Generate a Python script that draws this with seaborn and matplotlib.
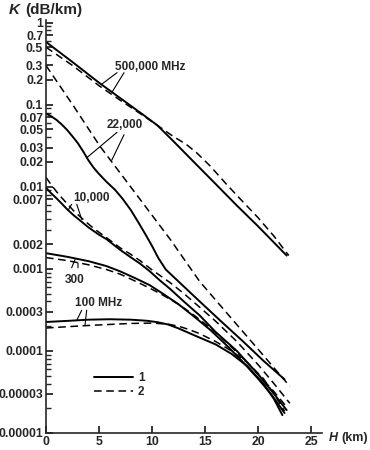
import numpy as np
import pandas as pd
import matplotlib
matplotlib.use("Agg")
import matplotlib.pyplot as plt
import matplotlib.ticker as mticker
from matplotlib.lines import Line2D
import seaborn as sns

# Attenuation K (dB/km) vs height H (km)
# curve 1 = solid, curve 2 = dashed
h_500k_1 = [0, 2.5, 5, 7, 9, 10.5, 12, 14, 16, 18, 20, 22.7]
k_500k_1 = [0.58, 0.33, 0.185, 0.12, 0.078, 0.056, 0.036, 0.0197, 0.0108, 0.0059, 0.0033, 0.00145]
h_500k_2 = [0, 2.5, 5, 7, 9, 10.5, 12, 13.2, 14.2, 15.5, 17, 18.6, 20, 21.5, 22.9]
k_500k_2 = [0.50, 0.30, 0.17, 0.113, 0.076, 0.056, 0.041, 0.033, 0.026, 0.0178, 0.0108, 0.0065,
            0.0042, 0.0025, 0.00145]

h_22k_1 = [0, 0.5, 1, 1.5, 2, 2.5, 3, 3.5, 4, 4.5, 5, 5.7, 6.5, 7.2, 8, 8.7, 9.4, 10, 10.6, 11.3,
           12.5, 14.5, 16.5, 18.6, 20.5, 22.5]
k_22k_1 = [0.078, 0.072, 0.065, 0.057, 0.049, 0.041, 0.034, 0.027, 0.021, 0.017, 0.0143, 0.0115,
           0.0092, 0.0072, 0.0052, 0.0037, 0.0026, 0.0019, 0.00135, 0.00098, 0.0007, 0.0004,
           0.00023, 0.00013, 0.000076, 0.000045]
h_22k_2 = [0, 2.6, 5.1, 8, 11.7, 14.5, 17.5, 20, 23]
k_22k_2 = [0.3, 0.096, 0.031, 0.0099, 0.0023, 0.0007, 0.000248, 0.000105, 0.000037]

h_10k_1 = [0, 0.5, 1, 1.5, 2, 2.6, 3.3, 4, 5, 5.7, 7, 8, 8.9, 9.8, 10.7, 11.7, 13, 14.5, 16, 18,
           20, 21.5, 22.7]
k_10k_1 = [0.0097, 0.0083, 0.0072, 0.0062, 0.0053, 0.0045, 0.0038, 0.0032, 0.0026, 0.0023, 0.0017,
           0.00138, 0.00115, 0.00093, 0.00073, 0.00057, 0.0004, 0.00027, 0.00017, 0.0001,
           0.000052, 0.00003, 0.000019]
h_10k_2 = [0, 0.5, 1, 1.5, 2, 2.6, 3.5, 4.5, 5.7, 7, 8, 8.9, 10, 11.7, 13, 14.5, 16, 18, 20, 21.5, 23]
k_10k_2 = [0.013, 0.0105, 0.0087, 0.0073, 0.0062, 0.0051, 0.004, 0.0031, 0.0024, 0.0018, 0.0015,
           0.00125, 0.00097, 0.00068, 0.0005, 0.00034, 0.00023, 0.00013, 0.000068, 0.00004, 0.000023]

h_300_1 = [0, 2, 4, 5.7, 7, 8.5, 9.8, 11, 12.5, 14, 15.5, 17, 18.5, 20, 21.3, 22.5]
k_300_1 = [0.00155, 0.0014, 0.00124, 0.00108, 0.00093, 0.00076, 0.00063, 0.0005, 0.00037, 0.00026,
           0.00018, 0.000118, 0.000075, 0.000046, 0.000029, 0.0000175]
h_300_2 = [0, 2, 4, 5.7, 7, 8.5, 9.8, 11, 12.5, 14, 15.5, 17, 18.5, 20, 21.5, 22.8]
k_300_2 = [0.00137, 0.00126, 0.00112, 0.00098, 0.00086, 0.0007, 0.00058, 0.00048, 0.00037, 0.00027,
           0.00019, 0.000128, 0.000083, 0.000052, 0.000032, 0.00002]

h_100_1 = [0, 2, 4, 6, 8, 9.5, 10.5, 11.5, 12.5, 13.5, 14.5, 16, 17.5, 19, 20.5, 21.5, 22.3]
k_100_1 = [0.000225, 0.000232, 0.00024, 0.000243, 0.00024, 0.000233, 0.000224, 0.00021, 0.000188,
           0.000165, 0.000145, 0.00012, 0.000092, 0.000065, 0.00004, 0.000026, 0.0000165]
h_100_2 = [0, 2, 4, 6, 8, 10, 11.5, 12.5, 13.5, 14.5, 16, 17.5, 19, 20.5, 21.5, 22.5]
k_100_2 = [0.00019, 0.000197, 0.000204, 0.00021, 0.000216, 0.000218, 0.000212, 0.0002, 0.000182,
           0.000162, 0.00013, 0.0001, 0.000072, 0.000046, 0.00003, 0.0000185]

y_tick_vals = [1, 0.7, 0.5, 0.3, 0.2, 0.1, 0.07, 0.05, 0.03, 0.02, 0.01, 0.007, 0.002, 0.001,
               0.0003, 0.0001, 0.00003, 0.00001]
y_tick_labels = ["1", "0.7", "0.5", "0.3", "0.2", "0.1", "0.07", "0.05", "0.03", "0.02", "0.01",
                 "0.007", "0.002", "0.001", "0.0003", "0.0001", "0.00003", "0.00001"]
x_tick_vals = [0, 5, 10, 15, 20, 25]

curves = [
    (h_500k_1, k_500k_1, "1"), (h_500k_2, k_500k_2, "2"),
    (h_22k_1, k_22k_1, "1"), (h_22k_2, k_22k_2, "2"),
    (h_10k_1, k_10k_1, "1"), (h_10k_2, k_10k_2, "2"),
    (h_300_1, k_300_1, "1"), (h_300_2, k_300_2, "2"),
    (h_100_1, k_100_1, "1"), (h_100_2, k_100_2, "2"),
]

sns.set_theme(style="ticks")
plt.rcParams["font.family"] = ["Liberation Sans", "DejaVu Sans"]
plt.rcParams["font.weight"] = "bold"

fig = plt.figure(figsize=(3.7, 4.5), dpi=100)
ax = fig.add_axes([0.1243, 0.0378, 0.745, 0.9175])

dash = (0, (5, 3))
for h, k, kind in curves:
    sns.lineplot(x=h, y=k, ax=ax, color="black", estimator=None, sort=False,
                 lw=1.4 if kind == "1" else 1.1,
                 linestyle="-" if kind == "1" else dash)

ax.set_yscale("log")
ax.set_xlim(0, 26)
ax.set_ylim(1e-5, 1.07)

ax.yaxis.set_major_locator(mticker.FixedLocator(y_tick_vals))
ax.yaxis.set_major_formatter(mticker.FixedFormatter(y_tick_labels))
ax.yaxis.set_minor_locator(mticker.LogLocator(base=10, subs=np.arange(1, 10)))
ax.yaxis.set_minor_formatter(mticker.NullFormatter())
ax.set_xticks(x_tick_vals)
ax.set_xticklabels([str(v) for v in x_tick_vals])

ax.tick_params(axis="both", which="major", direction="in", length=5, width=1.1,
               labelsize=8.8, pad=2, color="black")
ax.tick_params(axis="y", which="minor", direction="in", length=3.5, width=1.0)
ax.tick_params(axis="x", which="minor", length=0)
for lab in ax.get_xticklabels() + ax.get_yticklabels():
    lab.set_fontweight("bold")

sns.despine(ax=ax)
ax.spines["left"].set_linewidth(1.2)
ax.spines["bottom"].set_linewidth(1.2)
ax.set_xlabel("")
ax.set_ylabel("")

# labels with leader lines
lbl = dict(fontsize=8.5, fontweight="bold", va="center", ha="left")
lead = dict(arrowstyle="-", color="black", lw=0.8, shrinkA=0, shrinkB=0)

ax.text(6.5, 0.29, "500,000 MHz", **lbl)
ax.annotate("", xy=(5.2, 0.175), xytext=(6.7, 0.245), arrowprops=lead)
ax.annotate("", xy=(6.23, 0.142), xytext=(7.36, 0.245), arrowprops=lead)

ax.text(5.75, 0.057, "22,000", **lbl)
ax.annotate("", xy=(3.84, 0.0225), xytext=(6.7, 0.046), arrowprops=lead)
ax.annotate("", xy=(6.2, 0.021), xytext=(7.36, 0.043), arrowprops=lead)

ax.text(2.55, 0.0072, "10,000", **lbl)
ax.annotate("", xy=(2.1, 0.0052), xytext=(2.42, 0.0061), arrowprops=lead)
ax.annotate("", xy=(3.37, 0.0040), xytext=(2.9, 0.0061), arrowprops=lead)

ax.text(1.8, 0.00074, "300", **lbl)
ax.annotate("", xy=(2.74, 0.0013), xytext=(2.42, 0.00103), arrowprops=lead)
ax.annotate("", xy=(3.02, 0.00118), xytext=(3.02, 0.00103), arrowprops=lead)

ax.text(2.74, 0.000385, "100 MHz", **lbl)
ax.annotate("", xy=(2.9, 0.000236), xytext=(3.37, 0.000313), arrowprops=lead)
ax.annotate("", xy=(3.68, 0.000205), xytext=(3.84, 0.000313), arrowprops=lead)

handles = [Line2D([], [], color="black", lw=1.4),
           Line2D([], [], color="black", lw=1.1, linestyle=dash)]
ax.legend(handles, ["1", "2"], loc="upper left", bbox_to_anchor=(0.175, 0.148),
          frameon=False, handlelength=3.3, handletextpad=0.4, labelspacing=0.15,
          borderpad=0, borderaxespad=0, prop={"size": 8.5, "weight": "bold"})

# axis titles
fig.text(9 / 370, 1 - 10 / 450, "K", fontsize=11, fontweight="bold", style="italic",
         ha="left", va="center")
fig.text(25 / 370, 1 - 10 / 450, "(dB/km)", fontsize=11, fontweight="bold",
         ha="left", va="center")
fig.text(329 / 370, 1 - 438 / 450, "H", fontsize=9, fontweight="bold", style="italic",
         ha="left", va="center")
fig.text(341 / 370, 1 - 438 / 450, "(km)", fontsize=9, fontweight="bold",
         ha="left", va="center")

fig.savefig("out.png", dpi=100)
